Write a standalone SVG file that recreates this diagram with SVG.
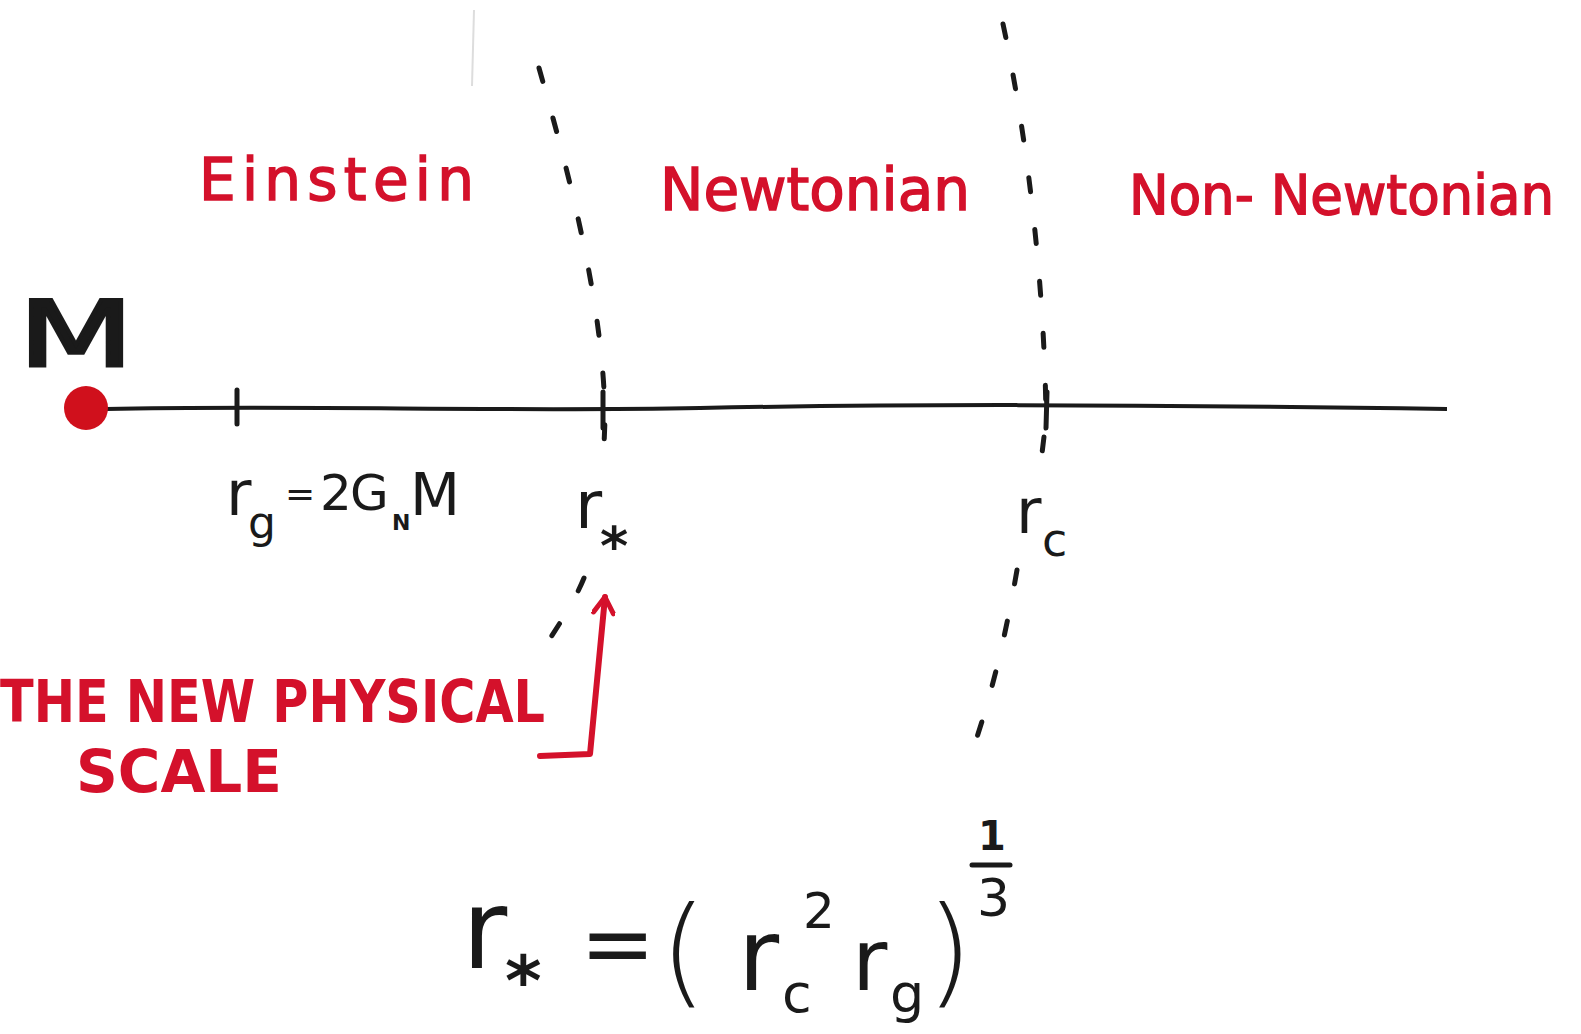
<svg xmlns="http://www.w3.org/2000/svg" width="1581" height="1034" viewBox="0 0 1581 1034">
<style>
.red{fill:#d4112b;stroke:#d4112b;stroke-width:1.5;font-family:"DejaVu Sans",sans-serif}
.cap{fill:#d4112b;font-family:"DejaVu Sans",sans-serif;font-weight:bold}
.blk{fill:#1a1a1a;font-family:"DejaVu Sans",sans-serif}
.dash{fill:none;stroke:#1a1a1a;stroke-width:5;stroke-linecap:round;stroke-dasharray:14 38}
</style>
<defs>
<marker id="ah" viewBox="0 0 24 24" refX="20" refY="12" markerWidth="24" markerHeight="24" markerUnits="userSpaceOnUse" orient="auto">
<path d="M4 2 L20 12 L4 22" fill="none" stroke="#d4112b" stroke-width="5" stroke-linecap="round" stroke-linejoin="round"/>
</marker>
</defs>
<rect width="1581" height="1034" fill="#ffffff"/>
<line x1="474" y1="10" x2="472" y2="86" stroke="#dddddd" stroke-width="2"/>
<g id="regions">
<text id="einstein" class="red" x="199" y="200" font-size="58" textLength="275" lengthAdjust="spacing">Einstein</text>
<text id="newtonian" class="red" x="660" y="210" font-size="58" textLength="310" lengthAdjust="spacing">Newtonian</text>
<text id="nonnewtonian" class="red" x="1129" y="214" font-size="56" textLength="425" lengthAdjust="spacingAndGlyphs">Non- Newtonian</text>
</g>
<g id="connectors">
<path class="dash" d="M539 68 C565 160 604 300 605 420 L603 470"/>
<path class="dash" d="M584 578 C575 600 562 620 549 640"/>
<path class="dash" d="M1003 24 C1030 150 1045 300 1046 420 L1040 470"/>
<path class="dash" d="M1017 570 C1005 640 990 700 972 752"/>
<path d="M106 409 C300 405 500 412 700 408 S1100 404 1447 409" fill="none" stroke="#1a1a1a" stroke-width="4"/>
<line x1="237" y1="390" x2="237" y2="424" stroke="#1a1a1a" stroke-width="5" stroke-linecap="round"/>
<line x1="603" y1="392" x2="603" y2="428" stroke="#1a1a1a" stroke-width="5" stroke-linecap="round"/>
<line x1="1047" y1="392" x2="1046" y2="428" stroke="#1a1a1a" stroke-width="5" stroke-linecap="round"/>
<path d="M540 756 L590 754 L605 597" fill="none" stroke="#d4112b" stroke-width="6" stroke-linecap="round" stroke-linejoin="round" marker-end="url(#ah)"/>
</g>
<g id="mass">
<circle cx="86" cy="408" r="22" fill="#d0101c"/>
<text class="blk" x="18" y="366" font-size="90" stroke="#1a1a1a" stroke-width="3" textLength="116" lengthAdjust="spacingAndGlyphs">M</text>
</g>
<g id="label-rg">
<text class="blk" x="226" y="515" font-size="62">r</text>
<text class="blk" x="248" y="538" font-size="44">g</text>
<text class="blk" x="285" y="506" font-size="36">=</text>
<text class="blk" x="320" y="510" font-size="50">2</text>
<text class="blk" x="350" y="510" font-size="50">G</text>
<text class="blk" x="392" y="530" font-size="22" font-weight="bold">N</text>
<text class="blk" x="410" y="515" font-size="58">M</text>
</g>
<g id="label-rstar">
<text class="blk" x="575" y="528" font-size="66">r</text>
<text class="blk" x="600" y="565" font-size="54" font-weight="bold">*</text>
</g>
<g id="label-rc">
<text class="blk" x="1016" y="533" font-size="62">r</text>
<text class="blk" x="1042" y="556" font-size="46">c</text>
</g>
<g id="newscale">
<text class="cap" x="0" y="722" font-size="58" textLength="545" lengthAdjust="spacingAndGlyphs">THE NEW PHYSICAL</text>
<text class="cap" x="76" y="792" font-size="58" textLength="206" lengthAdjust="spacingAndGlyphs">SCALE</text>
</g>
<g id="equation">
<text class="blk" x="462" y="968" font-size="110">r</text>
<text class="blk" x="505" y="1005" font-size="70" font-weight="bold">*</text>
<text class="blk" x="580" y="975" font-size="90">=</text>
<text class="blk" x="660" y="992" font-size="120" font-weight="lighter">(</text>
<text class="blk" x="738" y="990" font-size="100">r</text>
<text class="blk" x="782" y="1012" font-size="54">c</text>
<text class="blk" x="803" y="928" font-size="50">2</text>
<text class="blk" x="852" y="990" font-size="86">r</text>
<text class="blk" x="890" y="1012" font-size="54">g</text>
<text class="blk" x="926" y="992" font-size="120" font-weight="lighter">)</text>
<text class="blk" x="978" y="850" font-size="40" font-weight="bold">1</text>
<line x1="972" y1="865" x2="1010" y2="865" stroke="#1a1a1a" stroke-width="5" stroke-linecap="round"/>
<text class="blk" x="977" y="916" font-size="52">3</text>
</g>
</svg>
